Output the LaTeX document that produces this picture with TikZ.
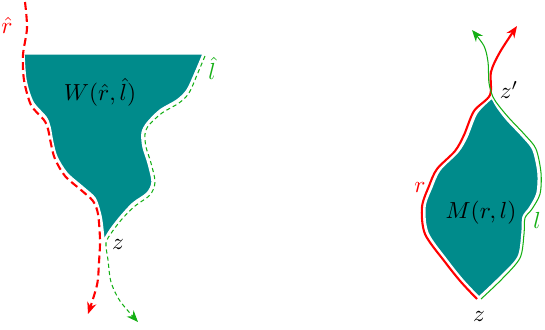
\documentclass[tikz,border=0pt]{standalone}
\usepackage{amsmath,amssymb}
\usepackage{xcolor}
\usepackage{tikz}
\usetikzlibrary{arrows.meta, positioning}

\definecolor{regionteal}{RGB}{0,139,139}
\definecolor{lgreen}{RGB}{20,175,20}

\begin{document}
\begin{tikzpicture}[x=0.43pt, y=-0.43pt,
    region/.style={fill=regionteal, draw=white, line width=0.6pt},
    rline/.style={red, line width=0.9pt},
    lline/.style={lgreen, line width=0.45pt},
    tip/.style={-{Stealth[length=5pt, width=4pt]}}]
        \useasboundingbox (0,0) rectangle (545,329);

        % W(r,l) region
        \coordinate (wz) at (104,240);
        \fill[region] (24,54) -- plot[smooth] coordinates {(203,54) (195,73) (187,90) (177,100) (160,110) (147,123) (142,133) (143,147) (148,163) (152,182) (147,193) (133,203) (120,217) (110,230) (104,240)}
            -- plot[smooth] coordinates {(104,240) (102,222) (100,212) (95,198) (83,187) (67,173) (57,157) (53,143) (50,127) (46,117) (33,102) (26,80) (24,54)} -- cycle;

        % dashed boundaries
        \draw[rline, tip, dash pattern=on 3.4pt off 1.8pt] plot[smooth] coordinates {(25,2) (27,28) (23,55) (24,80) (31,105) (44,120) (48,129) (51,144) (55,159) (65,176) (81,190) (93,201) (98,214) (100,240) (99,262) (97,285) (88,314)};
        \draw[lline, tip, dash pattern=on 1.8pt off 1.3pt] plot[smooth] coordinates {(205,56) (197,75) (189,93) (179,103) (162,113) (149,125) (145,134) (146,147) (151,163) (155,182) (150,195) (135,206) (122,219) (112,232) (106,243) (108,260) (111,282) (120,301) (138,322)};

        % M(r,l) region
        \coordinate (mz) at (479,297);
        \coordinate (mzp) at (492,98);
        \fill[region] (mz) -- plot[smooth] coordinates {(479,297) (463,280) (447,260) (428,233) (425,207) (432,187) (440,170) (458,152) (467,137) (477,113) (492,98)}
            -- plot[smooth] coordinates {(492,98) (497,107) (507,120) (523,137) (533,150) (538,173) (537,193) (530,207) (523,217) (522,233) (518,257) (500,277) (479,297)} -- cycle;

        % solid boundaries
        \draw[rline, tip] plot[smooth] coordinates {(477,299) (461,282) (445,262) (425,234) (422,207) (429,186) (437,169) (455,151) (464,135) (474,111) (490,95) (491,72) (500,52) (517,26)};
        \draw[lline, tip] plot[smooth] coordinates {(481,299) (502,279) (520,258) (524,234) (525,218) (532,209) (540,194) (541,173) (536,149) (525,135) (509,118) (499,106) (493,97) (489,83) (488,62) (484,46) (472,30)};

        % labels
        \node (wlabel) at (100,92) {$W(\hat r,\hat l)$};
        \node[red] (rhat) at (7,25) {$\hat r$};
        \node[lgreen] (lhat) at (212,68) {$\hat l$};
        \node (zleft) at (118,244) {$z$};
        \node (mlabel) at (481,213) {$M(r,l)$};
        \node[red] (rlab) at (420,187) {$r$};
        \node[lgreen] (llab) at (537,220) {$l$};
        \node (zprime) at (509,90) {$z'$};
        \node (zright) at (479,316) {$z$};
    \end{tikzpicture}
\end{document}
